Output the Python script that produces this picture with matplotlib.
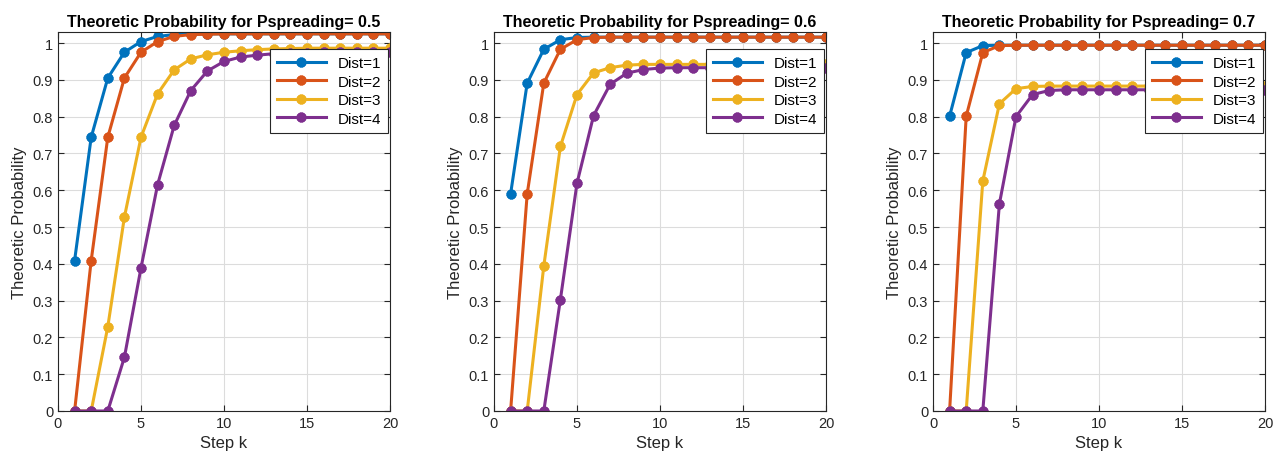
import numpy as np
import matplotlib
matplotlib.use("Agg")
import matplotlib.pyplot as plt

plt.rcParams['font.family'] = ['Liberation Sans', 'DejaVu Sans']

steps = np.arange(1, 21)
p_spreading = [0.5, 0.6, 0.7]
labels = ["Dist=1", "Dist=2", "Dist=3", "Dist=4"]
colors = ["#0072BD", "#D95319", "#EDB120", "#7E2F8E"]

# p = 0.5
p05_d1 = [0.409, 0.744, 0.905, 0.975, 1.004, 1.018, 1.023, 1.024, 1.025, 1.025,
          1.025, 1.025, 1.025, 1.025, 1.025, 1.025, 1.025, 1.025, 1.025, 1.025]
p05_d2 = [0.0, 0.409, 0.744, 0.905, 0.975, 1.004, 1.018, 1.023, 1.024, 1.025,
          1.025, 1.025, 1.025, 1.025, 1.025, 1.025, 1.025, 1.025, 1.025, 1.025]
p05_d3 = [0.0, 0.0, 0.229, 0.527, 0.744, 0.862, 0.927, 0.957, 0.968, 0.975,
          0.979, 0.982, 0.984, 0.985, 0.986, 0.986, 0.986, 0.986, 0.986, 0.986]
p05_d4 = [0.0, 0.0, 0.0, 0.146, 0.389, 0.615, 0.776, 0.871, 0.924, 0.950,
          0.962, 0.967, 0.971, 0.973, 0.974, 0.975, 0.975, 0.975, 0.975, 0.975]

# p = 0.6
p06_d1 = [0.590, 0.891, 0.983, 1.009, 1.015, 1.016, 1.016, 1.016, 1.016, 1.016,
          1.016, 1.016, 1.016, 1.016, 1.016, 1.016, 1.016, 1.016, 1.016, 1.016]
p06_d2 = [0.0, 0.590, 0.891, 0.983, 1.009, 1.015, 1.016, 1.016, 1.016, 1.016,
          1.016, 1.016, 1.016, 1.016, 1.016, 1.016, 1.016, 1.016, 1.016, 1.016]
p06_d3 = [0.0, 0.0, 0.394, 0.719, 0.860, 0.919, 0.933, 0.940, 0.942, 0.942,
          0.942, 0.942, 0.942, 0.942, 0.942, 0.942, 0.942, 0.942, 0.942, 0.942]
p06_d4 = [0.0, 0.0, 0.0, 0.303, 0.619, 0.803, 0.888, 0.918, 0.928, 0.932,
          0.933, 0.933, 0.933, 0.933, 0.933, 0.933, 0.933, 0.933, 0.933, 0.933]

# p = 0.7
p07_d1 = [0.801, 0.974, 0.993, 0.994, 0.994, 0.994, 0.994, 0.994, 0.994, 0.994,
          0.994, 0.994, 0.994, 0.994, 0.994, 0.994, 0.994, 0.994, 0.994, 0.994]
p07_d2 = [0.0, 0.801, 0.974, 0.993, 0.994, 0.994, 0.994, 0.994, 0.994, 0.994,
          0.994, 0.994, 0.994, 0.994, 0.994, 0.994, 0.994, 0.994, 0.994, 0.994]
p07_d3 = [0.0, 0.0, 0.625, 0.835, 0.876, 0.882, 0.883, 0.883, 0.883, 0.883,
          0.883, 0.883, 0.883, 0.883, 0.883, 0.883, 0.883, 0.883, 0.883, 0.883]
p07_d4 = [0.0, 0.0, 0.0, 0.563, 0.800, 0.860, 0.871, 0.873, 0.873, 0.873,
          0.873, 0.873, 0.873, 0.873, 0.873, 0.873, 0.873, 0.873, 0.873, 0.873]

series = [
    [p05_d1, p05_d2, p05_d3, p05_d4],
    [p06_d1, p06_d2, p06_d3, p06_d4],
    [p07_d1, p07_d2, p07_d3, p07_d4],
]

fig = plt.figure(figsize=(12.77, 4.64), dpi=100)
lefts = [58, 494, 933]
for i, p in enumerate(p_spreading):
    ax = fig.add_axes([lefts[i] / 1277, 52 / 464, 332 / 1277, 379 / 464])
    for vals, lab, col in zip(series[i], labels, colors):
        # 8-armed asterisk like the MATLAB '*' marker
        ax.plot(steps, vals, '-', color=col, lw=2.2, marker=(8, 2, 0),
                ms=7, mew=2.5, label=lab)
    ax.set_xlim(0, 20)
    ax.set_ylim(0, 1.03)
    ax.set_xticks([0, 5, 10, 15, 20])
    ax.set_yticks(np.arange(0, 1.01, 0.1))
    ax.set_yticklabels(["0", "0.1", "0.2", "0.3", "0.4", "0.5", "0.6",
                        "0.7", "0.8", "0.9", "1"])
    ax.grid(True, color="#dcdcdc", lw=0.8)
    ax.set_axisbelow(True)
    ax.tick_params(direction='in', top=True, right=True, labelsize=10.5,
                   length=4, colors="#262626")
    for s in ax.spines.values():
        s.set_color("#262626")
        s.set_linewidth(0.8)
    ax.set_title(f"Theoretic Probability for Pspreading= {p}",
                 fontsize=11.5, fontweight='bold', pad=4)
    ax.set_xlabel("Step k", fontsize=12, color="#262626")
    ax.set_ylabel("Theoretic Probability", fontsize=12, color="#262626")
    leg = ax.legend(loc='upper right', bbox_to_anchor=(0.995, 0.955),
                    borderaxespad=0, fontsize=11, handlelength=3.2,
                    fancybox=False, framealpha=1, edgecolor="#262626",
                    labelspacing=0.3, borderpad=0.45)
    leg.get_frame().set_linewidth(0.8)

fig.savefig("out.png", dpi=100)
